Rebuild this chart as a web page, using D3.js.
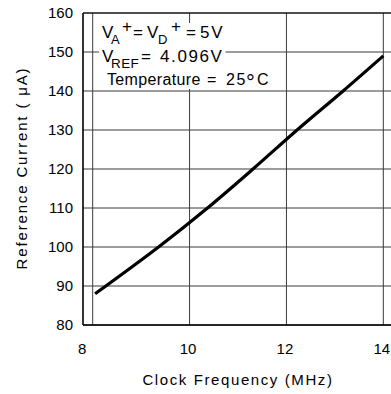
<!DOCTYPE html>
<html><head><meta charset="utf-8">
<script src="https://cdn.jsdelivr.net/npm/d3@7"></script>
<style>
body{margin:0;background:#fff;}
text{font-family:"Liberation Sans",Arial,sans-serif;fill:#000;}
</style></head>
<body><svg id="c" width="391" height="394"></svg>
<script>
const freq = [8.05, 9.36, 10.37, 11.31, 12.22, 13.17, 14.0];
const current = [88, 100, 110, 120, 130, 140, 149];
const xTicks = [8, 10, 12, 14];
const yTicks = [80, 90, 100, 110, 120, 130, 140, 150, 160];
const xTitle = "Clock Frequency (MHz)";
const yTitle = "Reference Current ( \u03BCA)";

const svg = d3.select("#c");
const L = 83, R = 393, T = 13, B = 325;
const x = d3.scaleLinear().domain([7.8, 14.2]).range([L, R]);
const y = d3.scaleLinear().domain([80, 160]).range([B, T]);

// gridlines
const g = svg.append("g");
g.selectAll(".vg").data(xTicks).join("line")
  .attr("x1", d => x(d)).attr("x2", d => x(d)).attr("y1", T).attr("y2", B)
  .attr("stroke", "#3a3a3a").attr("stroke-width", 1);
g.selectAll(".hg").data(yTicks).join("line")
  .attr("x1", L).attr("x2", R).attr("y1", d => y(d)).attr("y2", d => y(d))
  .attr("stroke", "#3a3a3a").attr("stroke-width", 1);

// frame
svg.append("line").attr("x1", L).attr("x2", L).attr("y1", T).attr("y2", B).attr("stroke", "#000").attr("stroke-width", 1.6);
svg.append("line").attr("x1", L).attr("x2", R).attr("y1", B).attr("y2", B).attr("stroke", "#000").attr("stroke-width", 1.6);
svg.append("line").attr("x1", L).attr("x2", R).attr("y1", T).attr("y2", T).attr("stroke", "#000").attr("stroke-width", 1.2);

// axes labels via d3 axes
const xa = svg.append("g").attr("transform", `translate(0,${B})`)
  .call(d3.axisBottom(x).tickValues(xTicks).tickSize(0).tickPadding(18).tickFormat(d3.format("d")));
xa.select(".domain").remove();
xa.selectAll("text").attr("font-size", 15).attr("font-family", "Liberation Sans")
  .attr("dx", d => d === 8 ? -11 : -2);
const ya = svg.append("g").attr("transform", `translate(${L},0)`)
  .call(d3.axisLeft(y).tickValues(yTicks).tickSize(0).tickPadding(10).tickFormat(d3.format("d")));
ya.select(".domain").remove();
ya.selectAll("text").attr("font-size", 15).attr("font-family", "Liberation Sans");

// titles
svg.append("text").attr("x", 238).attr("y", 385).attr("text-anchor", "middle")
  .attr("font-size", 15).attr("letter-spacing", 1.6).text(xTitle);
svg.append("text").attr("transform", "translate(27,168) rotate(-90)").attr("text-anchor", "middle")
  .attr("font-size", 15).attr("letter-spacing", 1.85).text(yTitle);

// annotation: segments [text, x, baseline, size, letterSpacing]
const annLines = [
  { top: 23, bottom: 47, segs: [
    ["V", 102, 38, 17, -2.6], ["A", 111, 43.5, 13, 0], ["+", 122, 32, 17, 0], ["=", 133, 38, 17, 0],
    ["V", 147, 38, 17, -2.6], ["D", 158, 43.5, 13, 0], ["+", 171, 32, 17, 0], ["=", 186, 38, 17, 0],
    ["5V", 200, 38, 17, 1.8] ] },
  { top: 47, bottom: 71, segs: [
    ["V", 102, 62, 17, -2.6], ["REF", 111, 67.5, 13.5, 0.4], ["=", 141, 62, 17, 0], ["4.096V", 160, 62, 17, 1.6] ] },
  { top: 71, bottom: 89, segs: [
    ["Temperature", 107, 85, 16, 0.35], ["=", 207, 85, 16, 0], ["25", 226, 85, 16, 1.5],
    ["\u00B0", 246, 90, 22, 0], ["C", 257, 85, 16, 0] ] }
];
const ann = svg.append("g");
annLines.forEach(line => {
  const bg = ann.append("rect").attr("fill", "#fff");
  const t = ann.append("text");
  line.segs.forEach(s => {
    t.append("tspan").attr("x", s[1]).attr("y", s[2]).attr("font-size", s[3])
      .attr("letter-spacing", s[4]).text(s[0]);
  });
  const b = t.node().getBBox();
  bg.attr("x", b.x - 3).attr("y", line.top).attr("width", b.width + 5).attr("height", line.bottom - line.top);
});

// curve
const pts = freq.map((f, i) => [f, current[i]]);
svg.append("path").datum(pts)
  .attr("d", d3.line().x(d => x(d[0])).y(d => y(d[1])).curve(d3.curveCatmullRom))
  .attr("fill", "none").attr("stroke", "#000").attr("stroke-width", 3.2);
</script></body></html>
